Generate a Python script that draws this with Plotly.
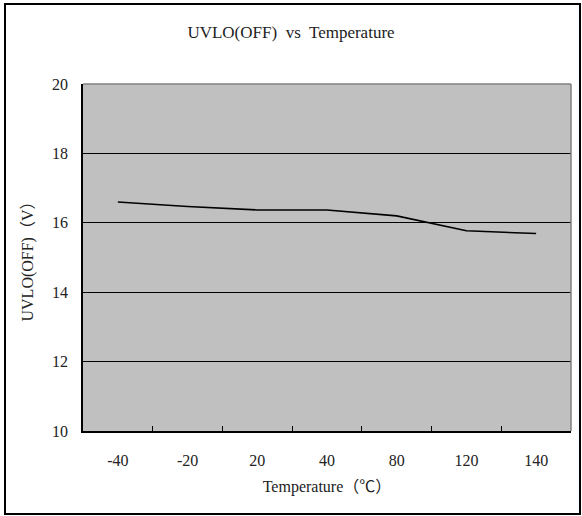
import plotly.graph_objects as go

temps = ["-40", "-20", "20", "40", "80", "120", "140"]
uvlo_off = [16.6, 16.47, 16.37, 16.37, 16.2, 15.77, 15.69]
y_ticks = [10, 12, 14, 16, 18, 20]

FONT = "Liberation Serif, Noto Sans CJK SC, serif"
TXT = "#222222"

fig = go.Figure()
fig.add_trace(go.Scatter(x=temps, y=uvlo_off, mode="lines",
                         line=dict(color="black", width=1.6), showlegend=False,
                         hoverinfo="x+y"))

L, R, T, B = 83, 11, 84, 85
W, H = 582, 516
pw, ph = W - L - R, H - T - B

def px(x):
    return (x - L) / pw

def py(y):
    return (H - B - y) / ph

fig.update_layout(
    width=W, height=H,
    margin=dict(l=L, r=R, t=T, b=B),
    paper_bgcolor="white",
    plot_bgcolor="#c0c0c0",
    font=dict(family=FONT, size=16, color=TXT),
    title=dict(text="UVLO(OFF)  vs  Temperature", x=0.5, xanchor="center",
               y=1 - 32 / H, yanchor="middle", font=dict(size=17, family=FONT, color=TXT)),
    xaxis=dict(type="category", categoryorder="array", categoryarray=temps,
               range=[-0.5, len(temps) - 0.5],
               tickson="boundaries", ticks="inside", ticklen=5, tickcolor="black",
               showline=True, linecolor="black", linewidth=1.5,
               showgrid=False, ticklabelstandoff=14,
               title=dict(text="Temperature（℃）", standoff=13,
                          font=dict(size=16, family=FONT, color=TXT)),
               fixedrange=True),
    yaxis=dict(range=[10, 20], tickvals=y_ticks, ticks="inside", ticklen=4,
               tickcolor="black", showline=True, linecolor="black", linewidth=1.5,
               showgrid=True, gridcolor="black", gridwidth=1, zeroline=False,
               ticklabelstandoff=10,
               title=dict(text="UVLO(OFF)（V）", standoff=14,
                          font=dict(size=16, family=FONT, color=TXT)),
               fixedrange=True),
)

# gray top and right plot borders
fig.add_shape(type="line", xref="paper", yref="paper", x0=0, x1=1, y0=1, y1=1,
              line=dict(color="#808080", width=1.5))
fig.add_shape(type="line", xref="paper", yref="paper", x0=1, x1=1, y0=0, y1=1,
              line=dict(color="#808080", width=1.5))
# outer chart border
fig.add_shape(type="rect", xref="paper", yref="paper",
              x0=px(5), x1=px(580), y0=py(514), y1=py(4),
              line=dict(color="black", width=2))

fig.write_html("out.html", config={"displayModeBar": False})

# remove default page margin so the figure sits at the window origin
with open("out.html", "r", encoding="utf-8") as f:
    html = f.read()
html = html.replace("<head>", "<head><style>html,body{margin:0;padding:0;overflow:hidden;}</style>", 1)
with open("out.html", "w", encoding="utf-8") as f:
    f.write(html)
